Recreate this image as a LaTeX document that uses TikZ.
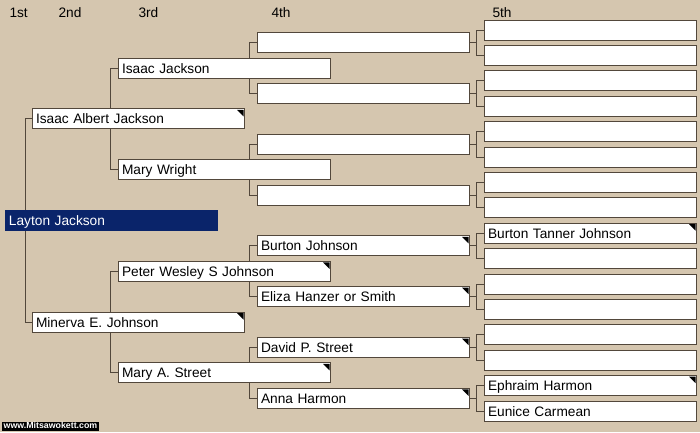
\documentclass[tikz,border=0pt]{standalone}
\usepackage{fontspec}
\setmainfont{Liberation Sans}
\pgfdeclarelayer{back}
\pgfdeclarelayer{wires}
\pgfsetlayers{back,wires,main}
\definecolor{tan}{HTML}{D5C6AF}
\definecolor{edge}{HTML}{52473B}
\definecolor{selblue}{HTML}{0A246A}
\tikzset{
  pbox/.style={draw=edge,line width=1pt,fill=white,anchor=west,minimum height=20pt,
    text width=205pt,align=left,inner xsep=3.5pt,text height=10pt,text depth=0pt,
    font=\fontsize{13.7}{15}\selectfont},
  mk/.style={path picture={\fill[black] ([xshift=-1pt,yshift=-1pt]path picture bounding box.north east)
    -- ++(-6.5pt,0pt) -- ++(6.5pt,-6.5pt) -- cycle;}},
  nomk/.style={},
  wire/.style={draw=edge,line width=1pt},
  gen/.style={anchor=base west,font=\fontsize{13.7}{15}\selectfont}
}
\begin{document}
\begin{tikzpicture}[x=1pt,y=-1pt]
\useasboundingbox (0,0) rectangle (700,432);
\begin{pgfonlayer}{back}
\fill[tan](0,0)rectangle(700,432);
\end{pgfonlayer}
% column heads
\node[gen] (h1) at (6,17) {1st};
\node[gen] (h2) at (55,17) {2nd};
\node[gen] (h3) at (135,17) {3rd};
\node[gen] (h4) at (268,17) {4th};
\node[gen] (h5) at (489,17) {5th};
% 1st and 2nd
\node[pbox,fill=selblue,draw=selblue,text=white] (n1) at (5,220.5) {Layton Jackson};
\node[pbox,mk] (n2) at (32,118.9) {Isaac Albert Jackson};
\node[pbox,mk] (n3) at (32,322.1) {Minerva E. Johnson};
% 3rd
\node[pbox] (n4) at (118,68.1) {Isaac Jackson};
\node[pbox] (n5) at (118,169.7) {Mary Wright};
\node[pbox,mk] (n6) at (118,271.3) {Peter Wesley S Johnson};
\node[pbox,mk] (n7) at (118,372.9) {Mary A. Street};
% 4th
\foreach \n/\t/\m [count=\j from 0] in {8//nomk,9//nomk,10//nomk,11//nomk,
  12/Burton Johnson/mk,13/Eliza Hanzer or Smith/mk,14/David P. Street/mk,15/Anna Harmon/mk}
  \node[pbox,\m] (n\n) at (257,42.7+50.8*\j) {\t};
% 5th
\foreach \n/\t/\m [count=\j from 0] in {16//nomk,17//nomk,18//nomk,19//nomk,20//nomk,21//nomk,
  22//nomk,23//nomk,24/Burton Tanner Johnson/mk,25//nomk,26//nomk,27//nomk,28//nomk,29//nomk,
  30/Ephraim Harmon/mk,31/Eunice Carmean/nomk}
  \node[pbox,\m] (n\n) at (484,30+25.4*\j) {\t};
% connectors
\begin{pgfonlayer}{wires}
\draw[wire](n2.west)--++(-7,0)|-(n3.west);
\foreach \p [evaluate=\p as \a using int(2*\p),evaluate=\p as \b using int(2*\p+1)] in {2,...,15}
  \draw[wire](n\a.west)--++(-8,0)|-(n\b.west);
\foreach \p in {8,...,15}
  \draw[wire](n\p.east)--++(7,0);
\end{pgfonlayer}
\node[fill=black,text=white,anchor=south west,inner xsep=1.5pt,inner ysep=0.6pt,
  text height=6.6pt,text depth=1.4pt,
  font=\bfseries\fontsize{8.8}{9}\selectfont] (web) at (2,431) {www.Mitsawokett.com};
\end{tikzpicture}
\end{document}
